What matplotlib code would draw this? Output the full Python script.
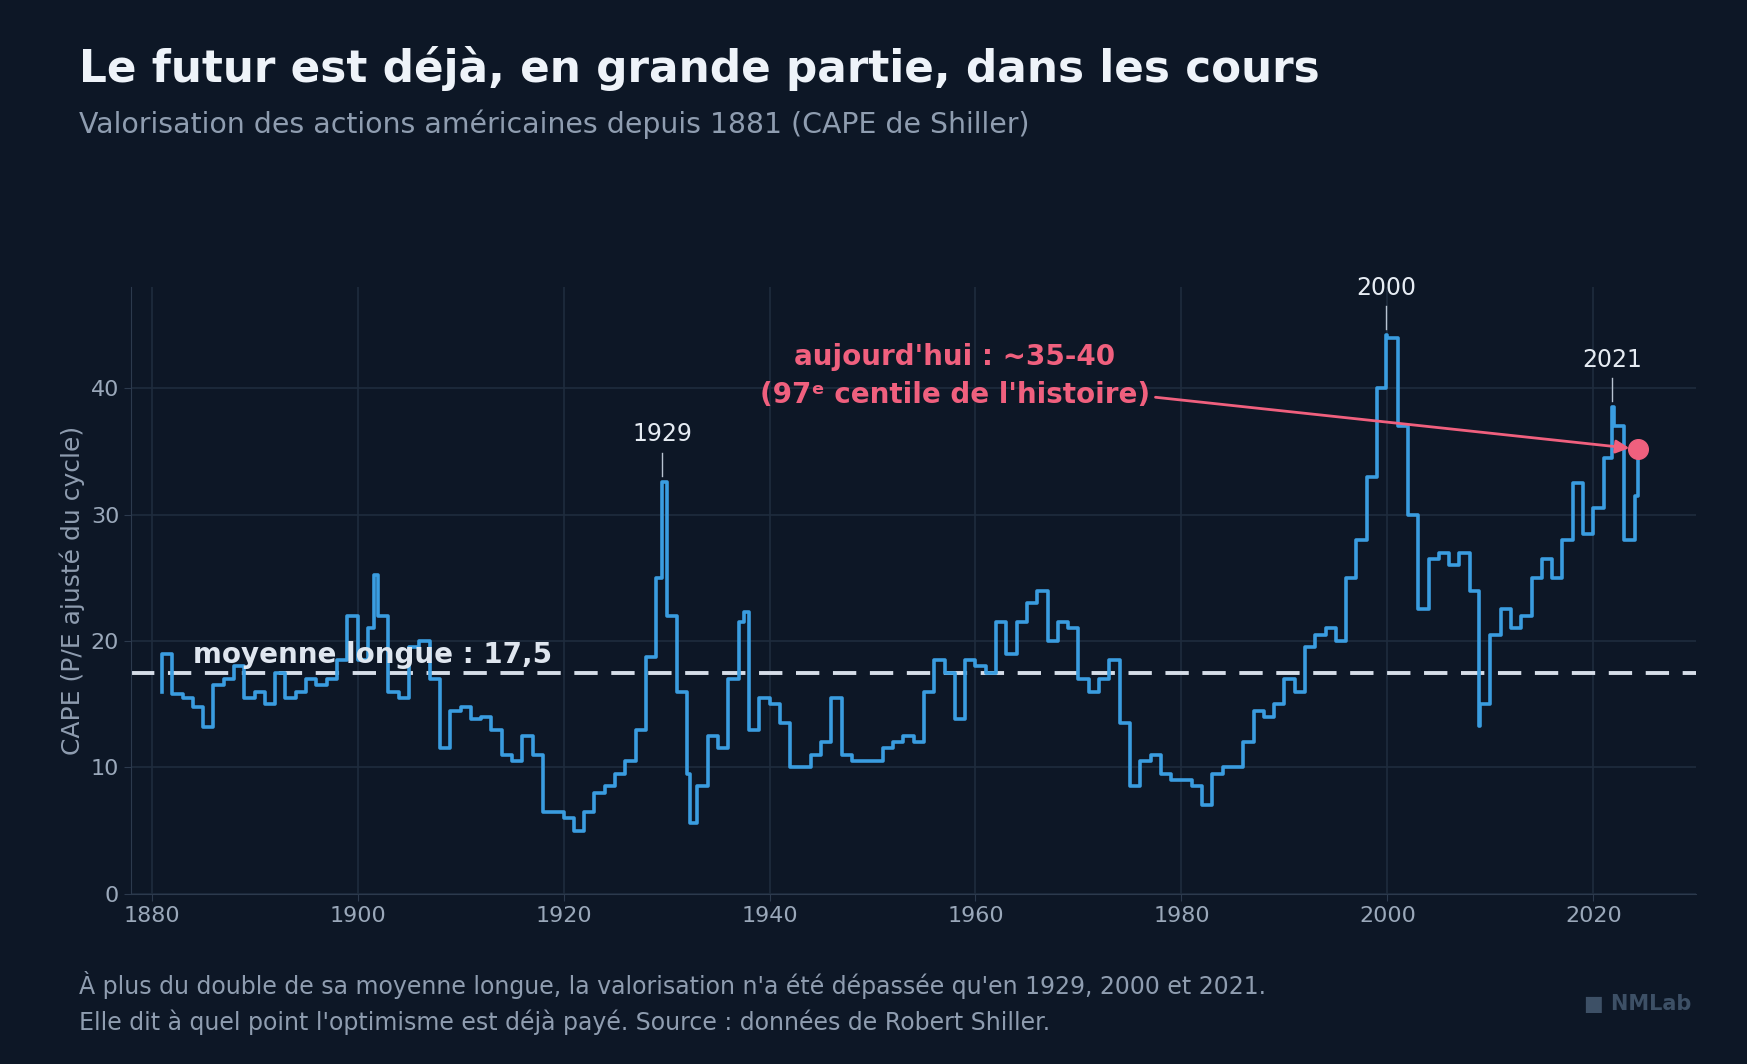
import matplotlib
matplotlib.use("Agg")
import matplotlib.pyplot as plt

years = list(range(1881, 2025))
cape = [16, 15.8, 15.5, 14.8, 13.2, 16.5, 17, 18, 15.5, 16,
        15, 17.5, 15.5, 16, 17, 16.5, 17, 18.5, 22, 18.5,
        21, 22, 16, 15.5, 19.5, 20, 17, 11.5, 14.5, 14.8,
        13.8, 14, 13, 11, 10.5, 12.5, 11, 6.5, 6.5, 6,
        5, 6.5, 8, 8.5, 9.5, 10.5, 13, 18.7, 25, 22,
        16, 9.5, 8.5, 12.5, 11.5, 17, 21.5, 13, 15.5, 15,
        13.5, 10, 10, 11, 12, 15.5, 11, 10.5, 10.5, 10.5,
        11.5, 12, 12.5, 12, 16, 18.5, 17.5, 13.8, 18.5, 18,
        17.5, 21.5, 19, 21.5, 23, 24, 20, 21.5, 21, 17,
        16, 17, 18.5, 13.5, 8.5, 10.5, 11, 9.5, 9, 9,
        8.5, 7, 9.5, 10, 10, 12, 14.5, 14, 15, 17,
        16, 19.5, 20.5, 21, 20, 25, 28, 33, 40, 44,
        37, 30, 22.5, 26.5, 27, 26, 27, 24, 15, 20.5,
        22.5, 21, 22, 25, 26.5, 25, 28, 32.5, 28.5, 30.5,
        34.5, 37, 28, 31.5]
# intra-year extremes
spike_x = [1881.0, 1901.6, 1929.6, 1932.3, 1937.5, 1999.9, 2008.9, 2021.8, 2024.3]
spike_y = [19.0, 25.2, 32.6, 5.6, 22.3, 44.2, 13.3, 38.5, 35.2]

pts = sorted(list(zip(years, cape)) + list(zip(spike_x, spike_y)))
xs = [p[0] for p in pts]
ys = [p[1] for p in pts]

mean_long = 17.5
today_x, today_y = 2024.3, 35.2
peaks = [("1929", 1929.6, 32.6), ("2000", 1999.9, 44.2), ("2021", 2021.8, 38.5)]

bg = "#0d1726"
fig = plt.figure(figsize=(17.47, 10.64), dpi=100, facecolor=bg)
ax = fig.add_axes([0.075, 0.16, 0.896, 0.57], facecolor=bg)
ax.plot(xs, ys, drawstyle="steps-post", color="#3a9de0", lw=2.6, zorder=3)
ax.axhline(mean_long, color="#d5dde8", lw=2.8, ls=(0, (6, 3.5)), zorder=2)
ax.text(1884, mean_long + 0.8, "moyenne longue : 17,5", color="#dfe6ef",
        fontsize=20, fontweight="bold", zorder=4)
ax.scatter([today_x], [today_y], s=200, color="#f0607e", zorder=5)
ax.annotate("aujourd'hui : ~35-40\n(97ᵉ centile de l'histoire)", xy=(today_x, today_y),
            xytext=(1958, 41.0), color="#f0607e", fontsize=20, fontweight="bold",
            ha="center", va="center", linespacing=1.45,
            arrowprops=dict(arrowstyle="-|>", color="#f0607e", lw=2,
                            shrinkA=2, shrinkB=6))
for lab, x, y in peaks:
    ax.plot([x, x], [y + 0.5, y + 2.3], color="#b8c3d1", lw=1)
    ax.text(x, y + 2.8, lab, color="#e6ecf3", fontsize=17, ha="center", va="bottom")

ax.set_xlim(1878, 2030)
ax.set_ylim(0, 48)
ax.set_xticks(range(1880, 2021, 20))
ax.set_yticks(range(0, 41, 10))
ax.grid(color="#1f2c3d", lw=1.2)
ax.set_axisbelow(True)
for s in ["top", "right"]:
    ax.spines[s].set_visible(False)
for s in ["left", "bottom"]:
    ax.spines[s].set_color("#2c3a4d")
ax.tick_params(colors="#9aa8ba", labelsize=16, length=5, color="#2c3a4d")
ax.set_ylabel("CAPE (P/E ajusté du cycle)", color="#8f9db0", fontsize=18)

fig.text(0.045, 0.936, "Le futur est déjà, en grande partie, dans les cours",
         color="#eef3f9", fontsize=31.5, fontweight="bold", va="center")
fig.text(0.045, 0.883, "Valorisation des actions américaines depuis 1881 (CAPE de Shiller)",
         color="#8f9db0", fontsize=20.4, va="center")
fig.text(0.045, 0.057, "À plus du double de sa moyenne longue, la valorisation n'a été dépassée qu'en 1929, 2000 et 2021.\n"
         "Elle dit à quel point l'optimisme est déjà payé. Source : données de Robert Shiller.",
         color="#8f9db0", fontsize=17, va="center", linespacing=1.5)
fig.text(0.968, 0.056, "■ NMLab", color="#3d5066", fontsize=15, fontweight="bold",
         ha="right", va="center")
fig.savefig("out.png", dpi=100, facecolor=bg)
